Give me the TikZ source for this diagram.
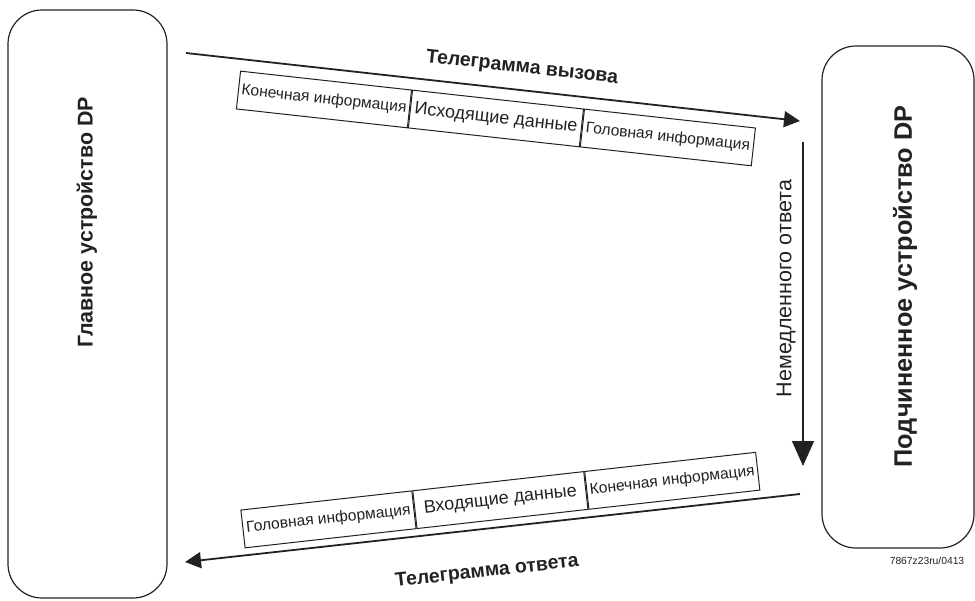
\documentclass[tikz,border=0pt]{standalone}
\usepackage{fontspec}
\setmainfont{Liberation Sans}
\usetikzlibrary{arrows.meta,positioning}
\definecolor{ink}{rgb}{0.14,0.13,0.13}

\begin{document}
\begin{tikzpicture}[x=1pt,y=-1pt,
  device/.style={draw=ink, line width=1.2pt, rounded corners=34pt, inner sep=0pt},
  devtext/.style={rotate=90, text=ink},
  cell/.style={draw=ink, line width=1pt, minimum width=172pt, minimum height=38pt,
               inner sep=0pt, anchor=west, text=ink},
  info/.style={cell, font=\fontsize{15.6}{18}\selectfont},
  data/.style={cell, font=\fontsize{18}{20}\selectfont},
  tele/.style={font=\bfseries\fontsize{19.5}{22}\selectfont, text=ink, inner sep=0.5pt},
  arr/.style={-{Triangle[length=16pt,width=16pt]}, line width=1.8pt, draw=ink},
  varr/.style={-{Triangle[length=25pt,width=22pt]}, line width=1.2pt, draw=ink},
]
\useasboundingbox (0,0) rectangle (975,600);
% devices
\node[device, minimum width=159pt, minimum height=588pt] (master) at (87.5,304) {};
\node[devtext, font=\bfseries\fontsize{21.4}{24}\selectfont] (mastertxt) at (87,222.5) {Главное устройство DP};
\node[device, minimum width=152pt, minimum height=502pt] (slave) at (898,297) {};
\node[devtext, font=\bfseries\fontsize{25.3}{28}\selectfont] (slavetxt) at (905,286.5) {Подчиненное устройство DP};
% call telegram (top)
\coordinate (callA) at (186,53);
\coordinate (callB) at (800,121);
\draw[arr] (callA) -- (callB);
\node[tele, rotate=-6.3] (calllbl) at (522,68) {Телеграмма вызова};
\node[info, rotate=-6.3] (c1) at (238,90) {Конечная информация};
\node[data, rotate=-6.3] (c2) at (c1.east) {Исходящие данные};
\node[info, rotate=-6.3] (c3) at (c2.east) {Головная информация};
% immediate response
\coordinate (respA) at (803,142);
\coordinate (respB) at (803,466);
\draw[varr] (respA) -- (respB);
\node[font=\fontsize{21.5}{24}\selectfont, rotate=90, text=ink] (resplbl) at (786,288.5) {Немедленного ответа};
% answer telegram (bottom)
\node[info, rotate=6.4] (r1) at (242.5,529) {Головная информация};
\node[data, rotate=6.4] (r2) at (r1.east) {Входящие данные};
\node[info, rotate=6.4] (r3) at (r2.east) {Конечная информация};
\coordinate (ansA) at (800,494);
\coordinate (ansB) at (185,562);
\draw[arr] (ansA) -- (ansB);
\node[tele, rotate=6.3] (anslbl) at (487,572) {Телеграмма ответа};
\node[font=\fontsize{10.3}{12}\selectfont, text=ink] (code) at (927,561) {7867z23ru/0413};
\end{tikzpicture}
\end{document}
